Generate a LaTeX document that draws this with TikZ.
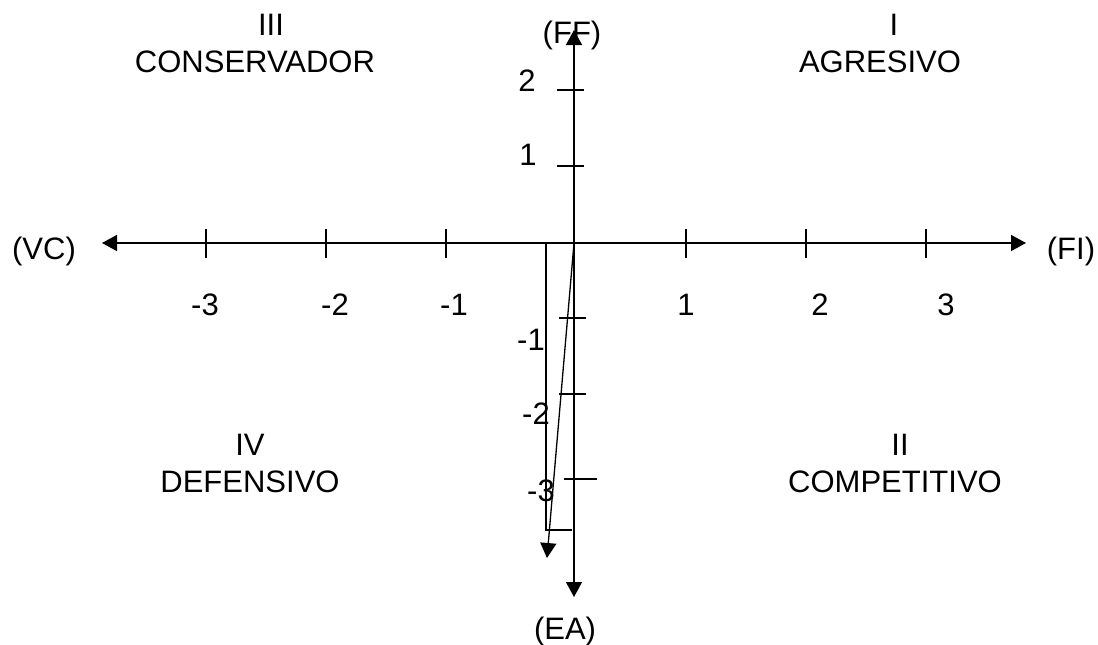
\documentclass[tikz,border=0pt]{standalone}
\usepackage{fontspec}
\setmainfont{Liberation Sans}
\usetikzlibrary{arrows.meta}
\begin{document}
\begin{tikzpicture}[x=1pt,y=-1pt,
  lbl/.style={font=\fontsize{31}{37}\selectfont, inner sep=0pt, anchor=base},
  axis/.style={line width=1.5pt, {Triangle[length=15pt,width=16pt]}-{Triangle[length=15pt,width=16pt]}},
  tick/.style={line width=1.3pt},
  vec/.style={line width=1.3pt, -{Triangle[length=15pt,width=16pt]}},
  frame/.style={line width=1.3pt}]
\useasboundingbox (0,0) rectangle (1098,645);

% axis end points and origin
\coordinate (O) at (574,243);
\coordinate (W) at (102,243);
\coordinate (E) at (1026,243);
\coordinate (N) at (574,30);
\coordinate (S) at (574,597);

\draw[axis] (W) -- (E);
\draw[axis] (N) -- (S);

% ticks on the horizontal axis
\foreach \x in {206,326,446,686,806,926}
  \draw[tick] (\x,229) -- (\x,258);
% ticks on the vertical axis
\draw[tick] (557,90) -- (584,90);
\draw[tick] (557,166) -- (584,166);
\draw[tick] (559,318) -- (586,318);
\draw[tick] (559,394) -- (586,394);
\draw[tick] (564,479) -- (597,479);

% resulting vector and its components
\coordinate (Px) at (546,243);
\coordinate (Pc) at (546,530);
\coordinate (Py) at (572,530);
\coordinate (P) at (547,558);
\draw[frame] (Px) -- (Pc) -- (Py);
\draw[vec] (O) -- (P);

% axis names
\node[lbl] (ff) at (572,43) {(FF)};
\node[lbl] (vc) at (44,259) {(VC)};
\node[lbl] (fi) at (1071,259) {(FI)};
\node[lbl] (ea) at (565,639) {(EA)};

% scale labels
\node[lbl] (hm3) at (205,315) {-3};
\node[lbl] (hm2) at (335,315) {-2};
\node[lbl] (hm1) at (454,315) {-1};
\node[lbl] (hp1) at (686,315) {1};
\node[lbl] (hp2) at (820,315) {2};
\node[lbl] (hp3) at (946,315) {3};
\node[lbl] (vp2) at (527,91) {2};
\node[lbl] (vp1) at (528,165) {1};
\node[lbl] (vm1) at (531,350) {-1};
\node[lbl] (vm2) at (536,424) {-2};
\node[lbl] (vm3) at (541,501) {-3};

% quadrants
\node[lbl] (q3a) at (271,35) {III};
\node[lbl] (q3b) at (255,72) {CONSERVADOR};
\node[lbl] (q1a) at (894,35) {I};
\node[lbl] (q1b) at (880,72) {AGRESIVO};
\node[lbl] (q4a) at (250,455) {IV};
\node[lbl] (q4b) at (250,492) {DEFENSIVO};
\node[lbl] (q2a) at (900,455) {II};
\node[lbl] (q2b) at (895,492) {COMPETITIVO};
\end{tikzpicture}
\end{document}
